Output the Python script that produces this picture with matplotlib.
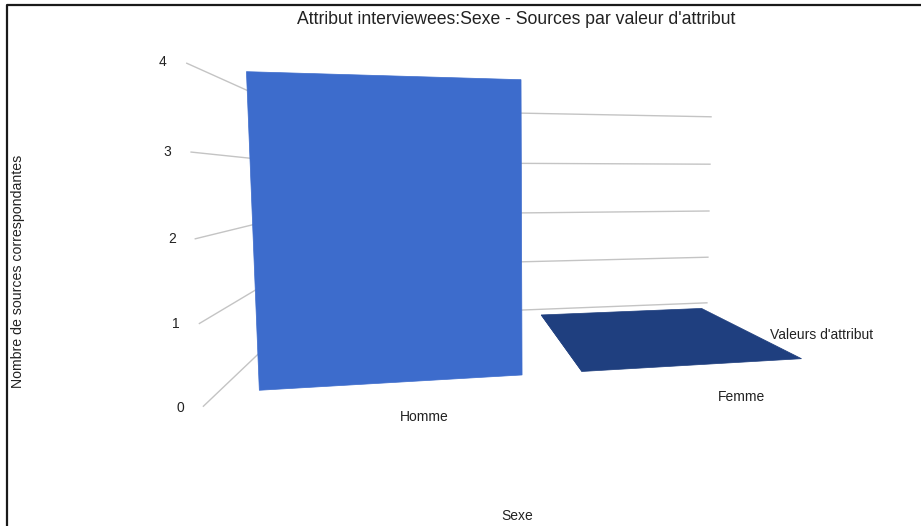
import numpy as np
import matplotlib.pyplot as plt
from matplotlib.patches import Polygon

plt.rcParams['font.family'] = ['Liberation Sans', 'DejaVu Sans']

# data
categories = ["Homme", "Femme"]
counts = [4, 0]
y_ticks = [0, 1, 2, 3, 4]

title = "Attribut interviewees:Sexe - Sources par valeur d'attribut"
x_title = "Sexe"
y_title = "Nombre de sources correspondantes"
z_title = "Valeurs d'attribut"

front_col = "#3d6ccc"
top_col = "#1f3f7f"
grid_col = "#c4c4c4"
text_col = "#222222"

# scene (world units: 1 = one count)
SLOT = 4.23            # width of one category slot
BAR_W = 0.8 * SLOT
BAR_SHIFT = 0.07
Z0, Z1 = 0.45, 3.93    # bar depth
DEPTH = 4.43           # back wall
WIDTH = SLOT * len(categories)

# pinhole camera
yaw, pitch = np.radians(10.0), np.radians(4.63)
cam = np.array([2.84, 2.70, -7.41])
focal, cx, cy = 589.0, 547.0, 226.0
st, ct, sp, cp = np.sin(yaw), np.cos(yaw), np.sin(pitch), np.cos(pitch)
r_vec = np.array([ct, 0, -st])
d_vec = np.array([-sp * st, -cp, -sp * ct])
f_vec = np.array([st * cp, -sp, ct * cp])


def proj(x, y, z):
    w = np.array([x, y, z]) - cam
    u, v, t = r_vec @ w, d_vec @ w, f_vec @ w
    return cx + focal * u / t, cy + focal * v / t


fig = plt.figure(figsize=(9.21, 5.26), dpi=100)
ax = fig.add_axes([0, 0, 1, 1])
ax.set_xlim(0, 921)
ax.set_ylim(526, 0)
ax.axis("off")

# frame (left and top only)
ax.plot([6.5, 6.5, 921], [526, 4.5, 4.5], color="#1a1a1a", lw=1.6, zorder=1)

# gridlines: left wall + back wall
for v in y_ticks:
    pts = [proj(0, v, 0), proj(0, v, DEPTH), proj(WIDTH, v, DEPTH)]
    ax.plot([p[0] for p in pts], [p[1] for p in pts], color=grid_col, lw=1, zorder=2)
    lx, ly = proj(-0.25, v, 0)
    ax.text(lx, ly, str(v), ha="center", va="center", fontsize=10, color=text_col)

# bars
for i, (cat, h) in enumerate(zip(categories, counts)):
    x0 = i * SLOT + (SLOT - BAR_W) / 2 + BAR_SHIFT
    x1 = x0 + BAR_W
    faces = []
    if cam[1] > h:
        faces.append(([(x0, h, Z0), (x1, h, Z0), (x1, h, Z1), (x0, h, Z1)], top_col))
    if cam[0] < x0:
        faces.append(([(x0, 0, Z0), (x0, h, Z0), (x0, h, Z1), (x0, 0, Z1)], top_col))
    if cam[0] > x1:
        faces.append(([(x1, 0, Z0), (x1, h, Z0), (x1, h, Z1), (x1, 0, Z1)], top_col))
    if h > 0:
        faces.append(([(x0, 0, Z0), (x1, 0, Z0), (x1, h, Z0), (x0, h, Z0)], front_col))
    for corners, col in faces:
        xy = [proj(*c) for c in corners]
        ax.add_patch(Polygon(xy, closed=True, facecolor=col, edgecolor=col, lw=0.5, zorder=3))
    lx, ly = proj(x0 + BAR_W / 2, 0, 0)
    ax.annotate(cat, (lx, ly), xytext=(23, -16), textcoords="offset points",
                ha="center", va="center", fontsize=10, color=text_col)

ax.text(516, 20, title, ha="center", va="center", fontsize=12.7, color=text_col)
ax.text(517, 516, x_title, ha="center", va="center", fontsize=10, color=text_col)
ax.text(18, 271, y_title, ha="center", va="center", rotation=90, fontsize=10.2, color=text_col)
ax.text(822, 335, z_title, ha="center", va="center", fontsize=10, color=text_col)

fig.savefig("out.png", dpi=100)
